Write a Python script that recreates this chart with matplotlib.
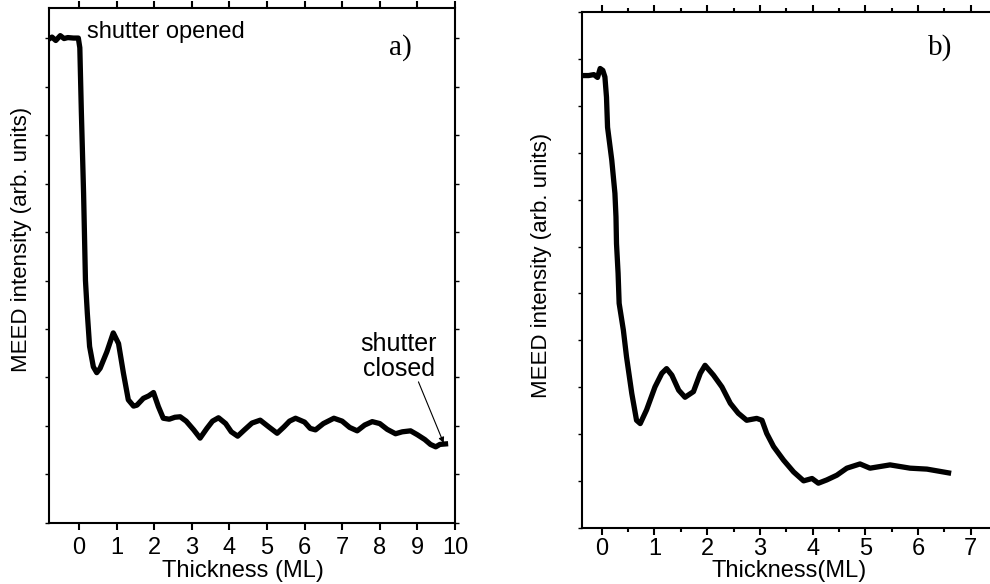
import matplotlib
matplotlib.use("Agg")
import matplotlib.pyplot as plt
from matplotlib.ticker import MultipleLocator, NullFormatter

plt.rcParams['font.family'] = ['Liberation Sans', 'DejaVu Sans']

# panel a) thickness (ML) vs MEED intensity (arb. units)
thick_a = [-0.8, -0.72, -0.62, -0.5, -0.4, -0.3, -0.15, -0.02,
           0.02, 0.06, 0.12, 0.17, 0.22, 0.28, 0.38, 0.47, 0.56, 0.74, 0.91,
           1.05, 1.18, 1.31, 1.45, 1.54, 1.71, 1.85, 1.98, 2.11, 2.24, 2.4,
           2.55, 2.69, 2.85, 3.05, 3.22, 3.4, 3.55, 3.71, 3.9, 4.05, 4.22,
           4.4, 4.6, 4.82, 5.05, 5.27, 5.45, 5.6, 5.76, 6.0, 6.15, 6.29, 6.5,
           6.78, 7.0, 7.2, 7.4, 7.6, 7.8, 8.0, 8.2, 8.42, 8.6, 8.82, 9.0, 9.2,
           9.35, 9.49, 9.6, 9.75]
int_a = [9.98, 10.02, 9.95, 10.05, 9.99, 10.01, 10.0, 10.0,
         9.8, 8.5, 6.8, 5.0, 4.32, 3.64, 3.22, 3.10, 3.19, 3.53, 3.92,
         3.70, 3.09, 2.54, 2.41, 2.43, 2.57, 2.62, 2.69, 2.40, 2.16, 2.14,
         2.18, 2.19, 2.10, 1.92, 1.75, 1.95, 2.10, 2.17, 2.05, 1.88, 1.79,
         1.92, 2.06, 2.12, 1.98, 1.85, 1.98, 2.10, 2.16, 2.08, 1.95, 1.92, 2.05,
         2.16, 2.10, 1.97, 1.90, 2.02, 2.09, 2.05, 1.93, 1.84, 1.88, 1.90, 1.82, 1.72,
         1.62, 1.57, 1.62, 1.63]

# panel b)
thick_b = [-0.38, -0.25, -0.15, -0.08, -0.03, 0.02, 0.06, 0.09, 0.11, 0.19,
           0.25, 0.27, 0.28, 0.31, 0.33, 0.41, 0.47, 0.57, 0.66, 0.73, 0.85,
           1.01, 1.14, 1.23, 1.33, 1.46, 1.58, 1.74, 1.87, 1.96, 2.12, 2.28,
           2.44, 2.59, 2.75, 2.94, 3.04, 3.13, 3.26, 3.45, 3.64, 3.83, 3.99,
           4.11, 4.27, 4.46, 4.65, 4.9, 5.09, 5.47, 5.85, 6.17, 6.58]
int_b = [9.64, 9.64, 9.66, 9.6, 9.79, 9.75, 9.61, 9.18, 8.54, 7.84,
         7.13, 6.63, 6.06, 5.43, 4.79, 4.22, 3.65, 2.87, 2.30, 2.23, 2.52,
         3.01, 3.30, 3.40, 3.26, 2.94, 2.79, 2.91, 3.30, 3.47, 3.26, 3.01,
         2.66, 2.45, 2.30, 2.34, 2.30, 2.02, 1.74, 1.45, 1.20, 1.01, 1.06,
         0.96, 1.03, 1.13, 1.28, 1.37, 1.28, 1.35, 1.28, 1.26, 1.18]

fig = plt.figure(figsize=(9.9, 5.84), dpi=100)
ax1 = fig.add_axes([0.0495, 0.1045, 0.410, 0.8818])
ax2 = fig.add_axes([0.5876, 0.0954, 0.4195, 0.8846])


def style_axes(ax, minor, pad):
    for s in ax.spines.values():
        s.set_linewidth(1.5)
    ax.yaxis.set_major_locator(MultipleLocator(1))
    ax.yaxis.set_major_formatter(NullFormatter())
    ax.xaxis.set_major_locator(MultipleLocator(1))
    if minor:
        ax.xaxis.set_minor_locator(MultipleLocator(0.5))
    ax.tick_params(axis='x', which='major', direction='out', length=5, width=1.5,
                   labelsize=17, pad=pad)
    ax.tick_params(axis='x', which='minor', direction='out', length=3, width=1.5)
    ax.tick_params(axis='y', which='major', direction='out', length=3, width=1)
    ax.tick_params(which='both', top=True, right=True)


# a)
ax1.plot(thick_a, int_a, color='black', lw=3.8, solid_joinstyle='round')
ax1.set_xlim(-0.8, 10)
ax1.set_ylim(0, 10.62)
style_axes(ax1, False, 5)
ax1.set_xlabel('Thickness (ML)', fontsize=17)
ax1.xaxis.set_label_coords(0.479, -0.072)
ax1.set_ylabel('MEED intensity (arb. units)', fontsize=16)
ax1.yaxis.set_label_coords(-0.042, 0.55)
ax1.text(0.21, 10.12, 'shutter opened', fontsize=17, ha='left', va='center')
ax1.text(8.55, 9.81, 'a)', fontsize=21, family='Liberation Serif', ha='center', va='center')
ax1.text(8.5, 3.44, 'shutter\nclosed', fontsize=18, ha='center', va='center', linespacing=1.05)
ax1.annotate('', xy=(9.70, 1.65), xytext=(9.03, 2.91),
             arrowprops=dict(arrowstyle='-|>', color='black', lw=0.8,
                             mutation_scale=8, shrinkA=0, shrinkB=0))

# b)
ax2.plot(thick_b, int_b, color='black', lw=3.8, solid_joinstyle='round')
ax2.set_xlim(-0.38, 7.5)
ax2.set_ylim(0, 11)
style_axes(ax2, True, 2)
ax2.set_xlabel('Thickness(ML)', fontsize=17)
ax2.xaxis.set_label_coords(0.50, -0.062)
ax2.set_ylabel('MEED intensity (arb. units)', fontsize=16)
ax2.yaxis.set_label_coords(-0.0715, 0.508)
ax2.text(6.42, 10.24, 'b)', fontsize=21, family='Liberation Serif', ha='center', va='center')

fig.savefig('out.png', dpi=100)
